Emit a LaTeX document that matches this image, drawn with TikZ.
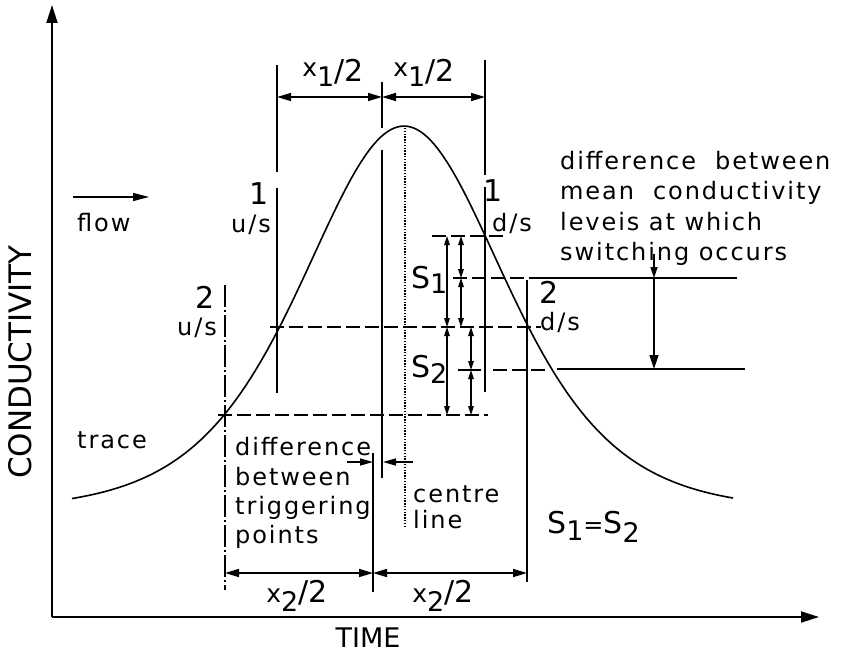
\documentclass[tikz,border=0pt]{standalone}
\usepackage{fontspec}
\setmainfont{DejaVu Sans}
\newfontfamily\lbl[LetterSpace=8]{DejaVu Sans}
\usetikzlibrary{arrows.meta}
\newcommand{\sz}[1]{\fontsize{#1}{#1}\selectfont}
\begin{document}
\begin{tikzpicture}[x=1pt,y=-1pt,
  txt/.style={inner sep=0pt, anchor=base west, font=\lbl\sz{24}},
  txtc/.style={inner sep=0pt, anchor=base, font=\lbl\sz{24}},
  num/.style={inner sep=0pt, anchor=base, font=\sz{30}},
  ln/.style={line width=1.6pt},
  axis/.style={line width=1.8pt, -{Triangle[length=18pt,width=11pt]}},
  dsh/.style={line width=1.5pt, dash pattern=on 14pt off 5pt},
  chain/.style={line width=1.5pt, dash pattern=on 22pt off 3pt on 2pt off 3pt},
  dotl/.style={line width=1.5pt, dash pattern=on 1.4pt off 1.4pt},
  dim/.style={ln, {Triangle[length=14pt,width=8pt]}-{Triangle[length=14pt,width=8pt]}},
  sdim/.style={line width=1.3pt, {Triangle[length=9pt,width=5.5pt]}-{Triangle[length=9pt,width=5.5pt]}},
  harr/.style={ln, -{Triangle[length=13pt,width=7pt]}},
]
\useasboundingbox (0,0) rectangle (845,652);

% axes
\coordinate (O) at (52,617);
\coordinate (Ytop) at (52,5);
\coordinate (Xend) at (819,617);
\draw[axis] (O) -- (Ytop);
\draw[axis] (O) -- (Xend);

% trace curve (sech^2 shaped pulse)
\draw[ln, line join=round] plot[domain=72:733, samples=200]
  (\x, {510 - 384/(cosh((\x-404)/136)*cosh((\x-404)/136))});

% vertical lines
\coordinate (vL1a) at (277,65);  \coordinate (vL1b) at (277,172);
\coordinate (vL1c) at (277,188); \coordinate (vL1d) at (277,393);
\coordinate (vCa) at (382,82);   \coordinate (vCb) at (382,128);
\coordinate (vCc) at (382,150);  \coordinate (vCd) at (382,478);
\coordinate (vR1a) at (485,60);  \coordinate (vR1b) at (485,175);
\coordinate (vR1c) at (485,187); \coordinate (vR1d) at (485,392);
\coordinate (vR2a) at (527,280); \coordinate (vR2b) at (527,582);
\coordinate (vL2a) at (225,285); \coordinate (vL2b) at (225,590);
\coordinate (vMa) at (373,453);  \coordinate (vMb) at (373,592);
\coordinate (cla) at (405,128);  \coordinate (clb) at (405,528);
\draw[ln] (vL1a) -- (vL1b) (vL1c) -- (vL1d);
\draw[ln] (vCa) -- (vCb) (vCc) -- (vCd);
\draw[ln] (vR1a) -- (vR1b) (vR1c) -- (vR1d);
\draw[ln] (vR2a) -- (vR2b);
\draw[ln] (vMa) -- (vMb);
\draw[chain] (vL2a) -- (vL2b);
\draw[dotl] (cla) -- (clb);

% top dimension x1/2
\coordinate (t1) at (277,97); \coordinate (t2) at (382,97); \coordinate (t3) at (485,97);
\draw[dim] (t1) -- (t2);
\draw[dim] (t2) -- (t3);
% bottom dimension x2/2
\coordinate (b1) at (225,573); \coordinate (b2) at (373,573); \coordinate (b3) at (527,573);
\draw[dim] (b1) -- (b2);
\draw[dim] (b2) -- (b3);

% horizontal levels
\coordinate (h1a) at (432,236); \coordinate (h1b) at (503,236);
\coordinate (h2a) at (453,278); \coordinate (h2b) at (537,278); \coordinate (h2c) at (737,278);
\coordinate (h3a) at (270,327); \coordinate (h3b) at (541,327);
\coordinate (h4a) at (458,370); \coordinate (h4b) at (481,370);
\coordinate (h4c) at (493,370); \coordinate (h4d) at (548,370);
\coordinate (h4e) at (557,369); \coordinate (h4f) at (745,369);
\coordinate (h5a) at (218,415); \coordinate (h5b) at (488,415);
\draw[dsh] (h1a) -- (h1b);
\draw[dsh] (h2a) -- (h2b);
\draw[ln] (h2b) -- (h2c);
\draw[dsh] (h3a) -- (h3b);
\draw[ln] (h4a) -- (h4b);
\draw[dsh] (h4c) -- (h4d);
\draw[ln] (h4e) -- (h4f);
\draw[dsh] (h5a) -- (h5b);

% S1 / S2 dimensions
\coordinate (sA1) at (447,236); \coordinate (sA2) at (447,327); \coordinate (sA3) at (447,415);
\coordinate (sB1) at (461,236); \coordinate (sB2) at (461,278); \coordinate (sB3) at (461,327);
\coordinate (sC1) at (471,327); \coordinate (sC2) at (471,370); \coordinate (sC3) at (471,415);
\draw[sdim] (sA1) -- (sA2);
\draw[sdim] (sA2) -- (sA3);
\draw[sdim] (sB1) -- (sB2);
\draw[sdim] (sB2) -- (sB3);
\draw[sdim] (sC1) -- (sC2);
\draw[sdim] (sC2) -- (sC3);

% difference between triggering points arrows
\coordinate (da) at (347,462); \coordinate (db) at (373,462);
\coordinate (dc) at (413,462); \coordinate (dd) at (383,462);
\draw[harr] (da) -- (db);
\draw[harr] (dc) -- (dd);

% difference between mean conductivity levels arrow
\coordinate (ma) at (654,254); \coordinate (mb) at (654,278); \coordinate (mc) at (654,369);
\draw[line width=1.5pt, -{Triangle[length=11pt,width=7pt]}] (ma) -- (mb);
\draw[line width=1.5pt, -{Triangle[length=14pt,width=9pt]}] (mb) -- (mc);

% flow arrow
\coordinate (fa) at (73,197); \coordinate (fb) at (149,197);
\draw[line width=1.4pt, -{Triangle[length=16pt,width=8pt]}] (fa) -- (fb);

% labels
\node[num] (xa) at (333,82) {\raisebox{5pt}{\sz{25}x}\raisebox{-5pt}{\sz{27}1}/2};
\node[num] (xb) at (424,82) {\raisebox{5pt}{\sz{25}x}\raisebox{-5pt}{\sz{27}1}/2};
\node[num] (xc) at (297,602) {{\sz{25}x}\raisebox{-9pt}{\sz{27}2}/2};
\node[num] (xd) at (443,602) {{\sz{25}x}\raisebox{-9pt}{\sz{27}2}/2};

\node[txt] (flow) at (77,232) {flow};
\node[txt] (trace) at (77,448) {trace};

\node[num] (n1u) at (259,205) {1};
\node[txtc] (us1) at (251,233) {u/s};
\node[num] (n2u) at (205,308) {2};
\node[txtc] (us2) at (197,335) {u/s};
\node[num] (n1d) at (493,202) {1};
\node[txtc] (ds1) at (512,232) {d/s};
\node[num] (n2d) at (549,303) {2};
\node[txtc] (ds2) at (560,330) {d/s};

\node[num, anchor=base west] (s1) at (411,288) {S\raisebox{-5pt}{\sz{27}1}};
\node[num, anchor=base west] (s2) at (411,377) {S\raisebox{-6pt}{\sz{27}2}};
\node[num, anchor=base west] (s12) at (547,533) {S\raisebox{-7pt}{\sz{27}1}{\sz{24}=}S\raisebox{-9pt}{\sz{27}2}};

\node[txt] (m1) at (560,170) {difference\ \ between};
\node[txt] (m2) at (560,200) {mean\ \ conductivity};
\node[txt] (m3) at (560,230) {leveis\ at\ which};
\node[txt] (m4) at (560,260) {switching\ occurs};

\node[txt] (d1) at (235,455) {difference};
\node[txt] (d2) at (235,485) {between};
\node[txt] (d3) at (235,514) {triggering};
\node[txt] (d4) at (235,543) {points};

\node[txt] (c1) at (413,502) {centre};
\node[txt] (c2) at (413,528) {line};

\node[inner sep=0pt, anchor=base, font=\sz{27}] (time) at (368,647) {TIME};
\node[inner sep=0pt, rotate=90, font=\sz{31}] (cond) at (20,362) {CONDUCTIVITY};
\end{tikzpicture}
\end{document}
